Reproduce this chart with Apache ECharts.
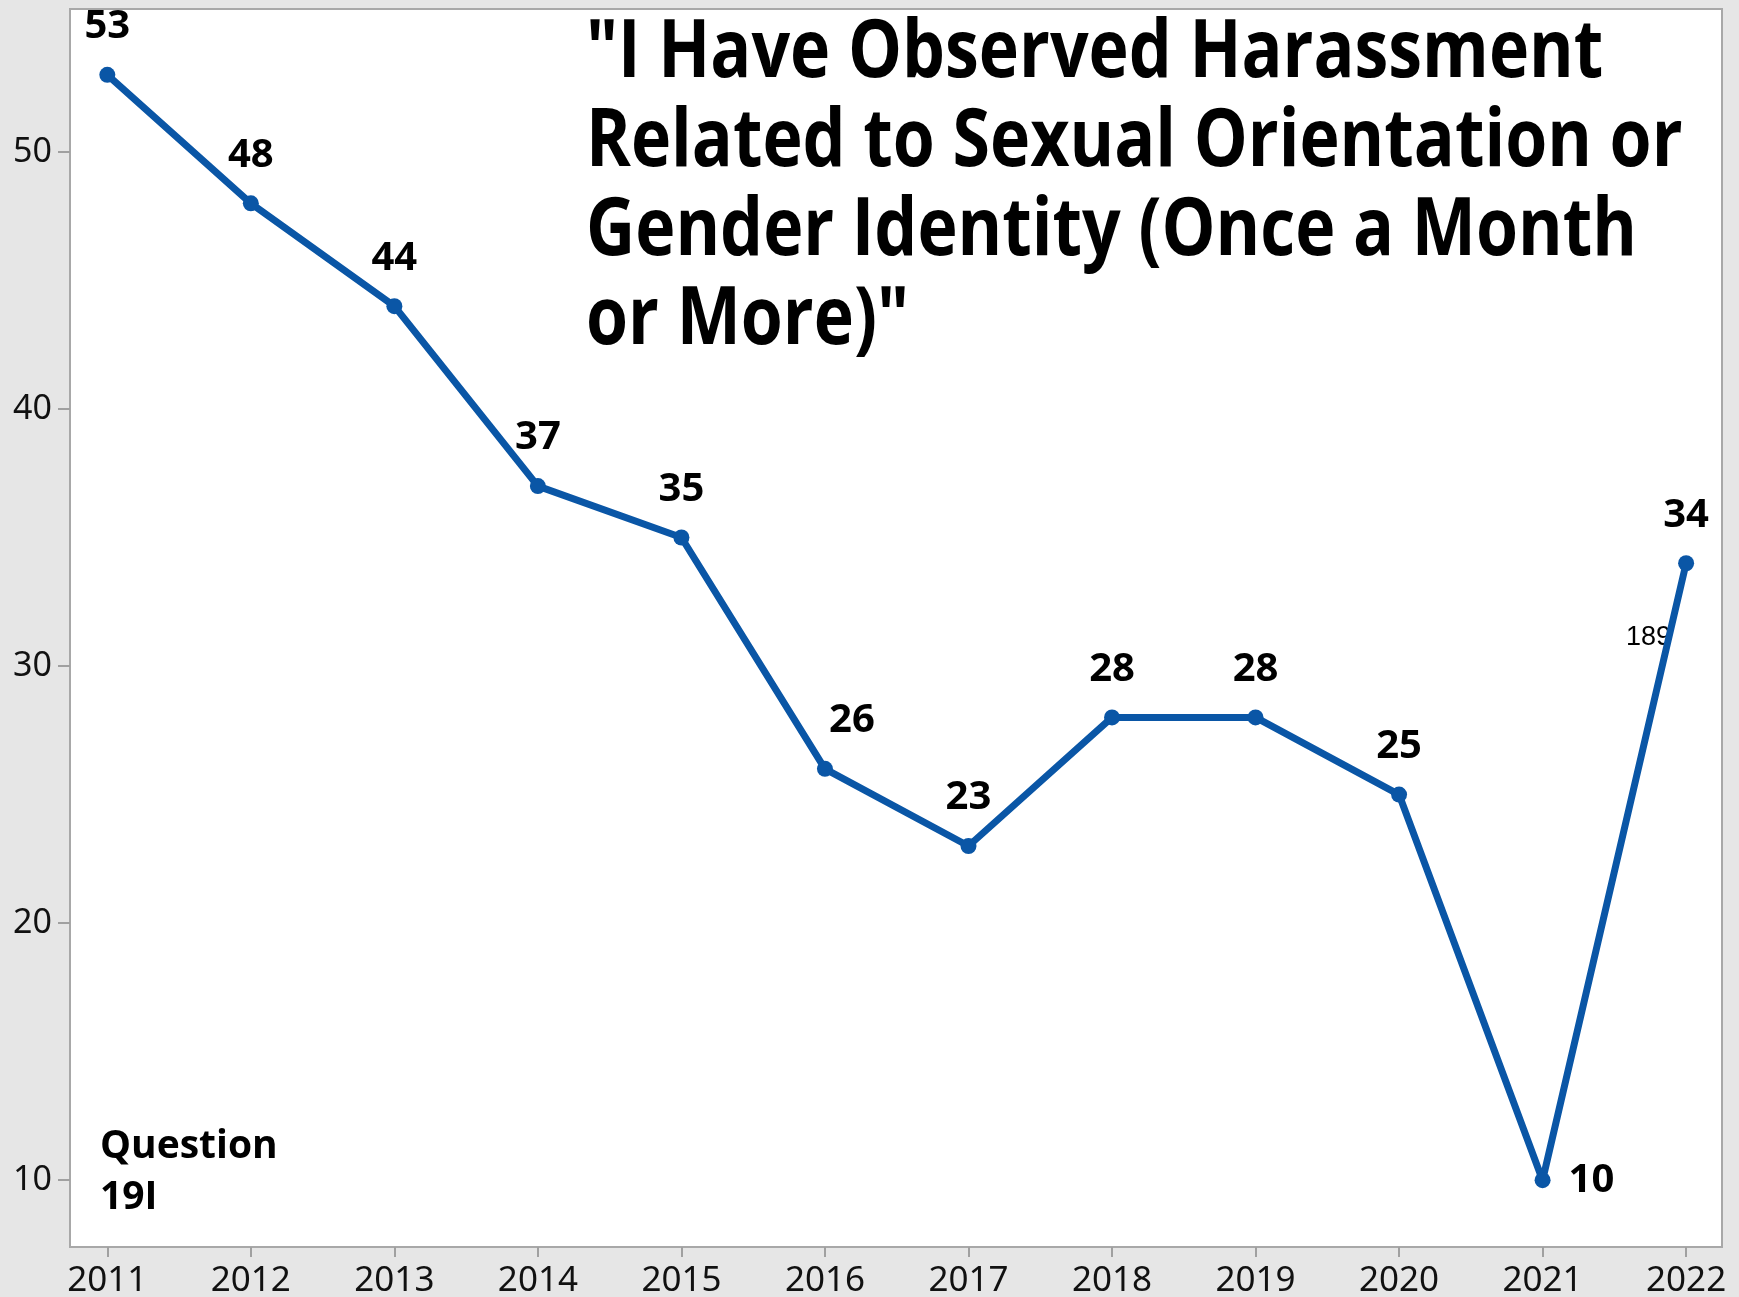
<!DOCTYPE html>
<html>
<head>
<meta charset="utf-8">
<script src="https://cdn.jsdelivr.net/npm/echarts@6/dist/echarts.min.js"></script>
<style>
  html, body { margin: 0; padding: 0; background: #e6e6e6; }
  #chart { width: 1739px; height: 1297px; }
</style>
</head>
<body>
<div id="chart"></div>
<script>
// Survey years and share of respondents (%)
const years = [2011, 2012, 2013, 2014, 2015, 2016, 2017, 2018, 2019, 2020, 2021, 2022];
const percentages = [53, 48, 44, 37, 35, 26, 23, 28, 28, 25, 10, 34];
const yTicks = [10, 20, 30, 40, 50];
const titleLines = [
  '"I Have Observed Harassment',
  'Related to Sexual Orientation or',
  'Gender Identity (Once a Month',
  'or More)"'
];
const noteLines = ['Question', '19I'];
const pageNumber = '189';

const lineColor = '#0a56a6';
const labelFont = '"Open Sans", "Noto Sans", sans-serif';
const tickFont = '"Noto Sans", sans-serif';

// Labels that sit beside the point instead of above it
const labelOverrides = {
  2016: { offset: [27, 0] },
  2021: { position: 'right', distance: 18 }
};

const seriesData = years.map((yr, i) => {
  const item = { value: [yr, percentages[i]] };
  if (labelOverrides[yr]) item.label = labelOverrides[yr];
  return item;
});

const chart = echarts.init(document.getElementById('chart'), null, { renderer: 'canvas' });

chart.setOption({
  backgroundColor: '#e6e6e6',
  animation: false,
  grid: {
    left: 70, top: 9, right: 17, bottom: 50,
    outerBoundsMode: 'none',
    containLabel: false,
    show: true,
    backgroundColor: '#ffffff',
    borderColor: '#a8a8a8',
    borderWidth: 2
  },
  xAxis: {
    type: 'value',
    min: 2010.74,
    max: 2022.25,
    splitLine: { show: false },
    axisLine: { show: false },
    axisTick: { show: true, length: 10, customValues: years, lineStyle: { color: '#a0a0a0', width: 2 } },
    axisLabel: {
      customValues: years,
      formatter: v => String(v),
      margin: 17,
      color: '#111',
      fontFamily: tickFont,
      fontSize: 35
    }
  },
  yAxis: {
    type: 'value',
    min: 7.4,
    max: 55.56,
    splitLine: { show: false },
    axisLine: { show: false },
    axisTick: { show: true, length: 12, customValues: yTicks, lineStyle: { color: '#a0a0a0', width: 2 } },
    axisLabel: {
      customValues: yTicks,
      formatter: v => String(v),
      margin: 18,
      color: '#111',
      fontFamily: tickFont,
      fontSize: 34
    }
  },
  series: [{
    type: 'line',
    data: seriesData,
    symbol: 'circle',
    symbolSize: 16,
    lineStyle: { color: lineColor, width: 7 },
    itemStyle: { color: lineColor },
    label: {
      show: true,
      position: 'top',
      distance: 20,
      formatter: p => String(p.value[1]),
      color: '#000',
      fontFamily: labelFont,
      fontWeight: 'bold',
      fontSize: 40
    }
  }],
  graphic: [
    {
      type: 'text',
      left: 586,
      top: 9,
      scaleY: 1.19,
      style: {
        text: titleLines.join('\n'),
        fontFamily: labelFont,
        fontWeight: 'bold',
        fontSize: 68,
        lineHeight: 75,
        fill: '#000'
      }
    },
    {
      type: 'text',
      left: 100,
      top: 1121,
      style: {
        text: noteLines.join('\n'),
        fontFamily: labelFont,
        fontWeight: 'bold',
        fontSize: 39,
        lineHeight: 51,
        fill: '#000'
      }
    },
    {
      type: 'text',
      left: 1626,
      top: 624,
      style: {
        text: pageNumber,
        fontFamily: '"Liberation Sans", Arial, sans-serif',
        fontSize: 27,
        fill: '#000'
      }
    }
  ]
});
</script>
</body>
</html>
